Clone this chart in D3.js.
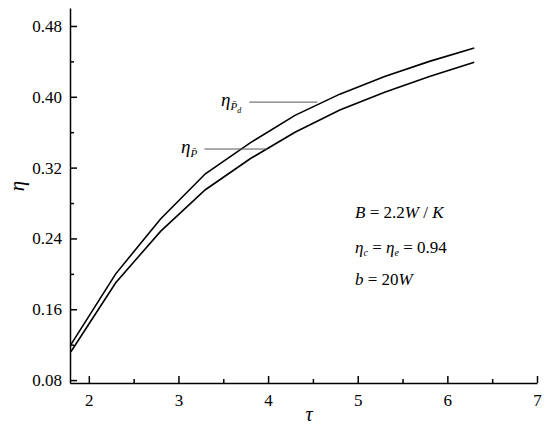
<!DOCTYPE html>
<html><head><meta charset="utf-8">
<script src="https://cdn.jsdelivr.net/npm/d3@7"></script>
<style>
html,body{margin:0;padding:0;background:#fff;}
</style></head>
<body>
<svg id="c" width="550" height="434"></svg>
<script>
const tau = [1.8, 2.3, 2.8, 3.3, 3.8, 4.3, 4.8, 5.3, 5.8, 6.3];
const etaPd = [0.120, 0.200, 0.262, 0.313, 0.348, 0.379, 0.403, 0.423, 0.440, 0.455];
const etaP  = [0.112, 0.190, 0.248, 0.295, 0.330, 0.360, 0.385, 0.405, 0.423, 0.439];
const xTicks = [2, 3, 4, 5, 6, 7];
const xMinor = [2.5, 3.5, 4.5, 5.5, 6.5];
const yTicks = [0.08, 0.16, 0.24, 0.32, 0.40, 0.48];
const yMinor = [0.12, 0.20, 0.28, 0.36, 0.44];

const FONT = '"Liberation Serif","Times New Roman","DejaVu Serif",serif';
const svg = d3.select("#c").style("font-family", FONT);
const x = d3.scaleLinear().domain([1.79, 7]).range([70, 537]);
const y = d3.scaleLinear().domain([0.0767, 0.5003]).range([383, 8]);

// axes
svg.append("g").attr("transform","translate(0,383)")
  .call(d3.axisBottom(x).tickValues(xTicks).tickFormat(d3.format("d")).tickSizeInner(-7).tickSizeOuter(0).tickPadding(11));
svg.append("g").attr("transform","translate(0,383)")
  .call(d3.axisBottom(x).tickValues(xMinor).tickFormat("").tickSizeInner(-4).tickSizeOuter(0))
  .select(".domain").remove();
svg.append("g").attr("transform","translate(70,0)")
  .call(d3.axisLeft(y).tickValues(yTicks).tickFormat(d3.format(".2f")).tickSizeInner(-7).tickSizeOuter(0).tickPadding(8));
svg.append("g").attr("transform","translate(70,0)")
  .call(d3.axisLeft(y).tickValues(yMinor).tickFormat("").tickSizeInner(-4).tickSizeOuter(0))
  .select(".domain").remove();
svg.selectAll(".domain, .tick line").attr("stroke","#000").attr("stroke-width",1.5);
svg.selectAll(".tick text").attr("font-size",17).attr("fill","#000");
svg.selectAll("g").attr("font-family",null);

// curves
const line = d3.line().x((d,i)=>x(tau[i])).y(d=>y(d));
[etaPd, etaP].forEach(s=>{
  svg.append("path").datum(s).attr("d", line).attr("fill","none")
    .attr("stroke","#000").attr("stroke-width",1.6);
});

// curve labels with leader lines
function label(tx, v, withD, t1, t2){
  const ty = y(v);
  svg.append("line").attr("x1",x(t1)).attr("x2",x(t2)).attr("y1",ty).attr("y2",ty)
    .attr("stroke","#555").attr("stroke-width",1);
  const t = svg.append("text").attr("x",tx).attr("y",ty+4).attr("font-style","italic").attr("font-size",19);
  t.append("tspan").text("η");
  t.append("tspan").attr("font-size",11).attr("dy",4).text("P\u0304");
  if(withD) t.append("tspan").attr("font-size",8).attr("dy",3).text("d");
}
label(221, 0.394, true, 3.79, 4.55);
label(181, 0.341, false, 3.29, 3.99);

// annotation
const ann = svg.append("g").attr("font-size",17).attr("font-style","italic");
const a1 = ann.append("text").attr("x",355).attr("y",218);
a1.append("tspan").text("B");
a1.append("tspan").attr("font-style","normal").text(" = 2.2");
a1.append("tspan").text("W");
a1.append("tspan").attr("font-style","normal").text(" / ");
a1.append("tspan").text("K");
const a2 = ann.append("text").attr("x",355).attr("y",253);
a2.append("tspan").text("η");
a2.append("tspan").attr("font-size",10).attr("dy",3).text("c");
a2.append("tspan").attr("font-style","normal").attr("dy",-3).text(" = ");
a2.append("tspan").text("η");
a2.append("tspan").attr("font-size",10).attr("dy",3).text("e");
a2.append("tspan").attr("font-style","normal").attr("dy",-3).text(" = 0.94");
const a3 = ann.append("text").attr("x",355).attr("y",285);
a3.append("tspan").text("b");
a3.append("tspan").attr("font-style","normal").text(" = 20");
a3.append("tspan").text("W");

// axis titles
svg.append("text").attr("transform","translate(24,186) rotate(-90)").attr("text-anchor","middle")
  .attr("font-size",21).attr("font-style","italic").text("η");
svg.append("text").attr("x",309).attr("y",421).attr("text-anchor","middle")
  .attr("font-size",20).attr("font-style","italic").text("τ");
</script>
</body></html>
